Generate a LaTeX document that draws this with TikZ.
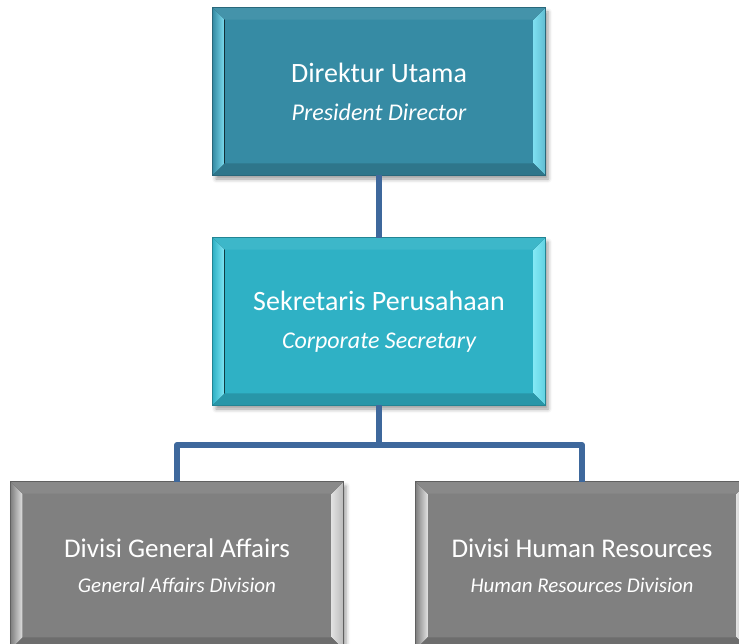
\documentclass[tikz,border=0pt]{standalone}
\usepackage{fontspec}
\setmainfont{Carlito}
\usetikzlibrary{shadows.blur}
\definecolor{tealA}{RGB}{54,139,164}
\definecolor{tealAl}{RGB}{125,222,240}
\definecolor{tealB}{RGB}{47,177,197}
\definecolor{tealBl}{RGB}{130,232,245}
\definecolor{grayA}{RGB}{128,128,128}
\definecolor{grayAl}{RGB}{225,225,225}
\definecolor{conn}{RGB}{62,104,156}
\tikzset{
  orgbox/.style={minimum width=332pt, minimum height=167pt, inner sep=0pt,
    text=white, align=center, draw=#1!75!black, line width=0.8pt, fill=#1,
    blur shadow={shadow xshift=3pt, shadow yshift=-4pt, shadow blur radius=4pt, shadow opacity=40}},
  link/.style={draw=conn, line width=6pt, line join=round},
  bigtxt/.style={font=\fontsize{28}{38}\selectfont},
  smalltxt/.style={font=\fontsize{27}{35}\selectfont}
}
\newcommand\mybevel[3]{%
  \fill[left color=#3, right color=#2] (#1.north west) -- ([shift={(12,12)}]#1.north west) -- ([shift={(12,-12)}]#1.south west) -- (#1.south west) -- cycle;
  \fill[left color=#2, right color=#2!60!#3] (#1.north east) -- ([shift={(-12,12)}]#1.north east) -- ([shift={(-12,-12)}]#1.south east) -- (#1.south east) -- cycle;
  \fill[#3!93!white] (#1.north west) -- (#1.north east) -- ([shift={(-12,12)}]#1.north east) -- ([shift={(12,12)}]#1.north west) -- cycle;
  \fill[#3!85!black] (#1.south west) -- (#1.south east) -- ([shift={(-12,-12)}]#1.south east) -- ([shift={(12,-12)}]#1.south west) -- cycle;
  \draw[#3!75!black, line width=0.8pt] (#1.north west) rectangle (#1.south east);
}
\begin{document}
\begin{tikzpicture}[x=1pt, y=-1pt]
\useasboundingbox (0,0) rectangle (739,644);
\node[orgbox=tealA, bigtxt] (top) at (379,91.5) {Direktur Utama\\{\fontsize{24}{38}\selectfont\itshape President Director}};
\node[orgbox=tealB, bigtxt] (mid) at (379,321.5) {Sekretaris Perusahaan\\{\fontsize{24}{38}\selectfont\itshape Corporate Secretary}};
\node[orgbox=grayA, smalltxt] (ga) at (177,565.5) {Divisi General Affairs\\{\fontsize{21}{35}\selectfont\itshape General Affairs Division}};
\node[orgbox=grayA, smalltxt] (hr) at (582,565.5) {Divisi Human Resources\\{\fontsize{21}{35}\selectfont\itshape Human Resources Division}};
\mybevel{top}{tealAl}{tealA}
\mybevel{mid}{tealBl}{tealB}
\mybevel{ga}{grayAl}{grayA}
\mybevel{hr}{grayAl}{grayA}
\coordinate (j) at (379,445);
\draw[link] (top.south) -- (mid.north);
\draw[link] (mid.south) -- (j);
\draw[link] (ga.north) |- (j) -| (hr.north);
\end{tikzpicture}
\end{document}
